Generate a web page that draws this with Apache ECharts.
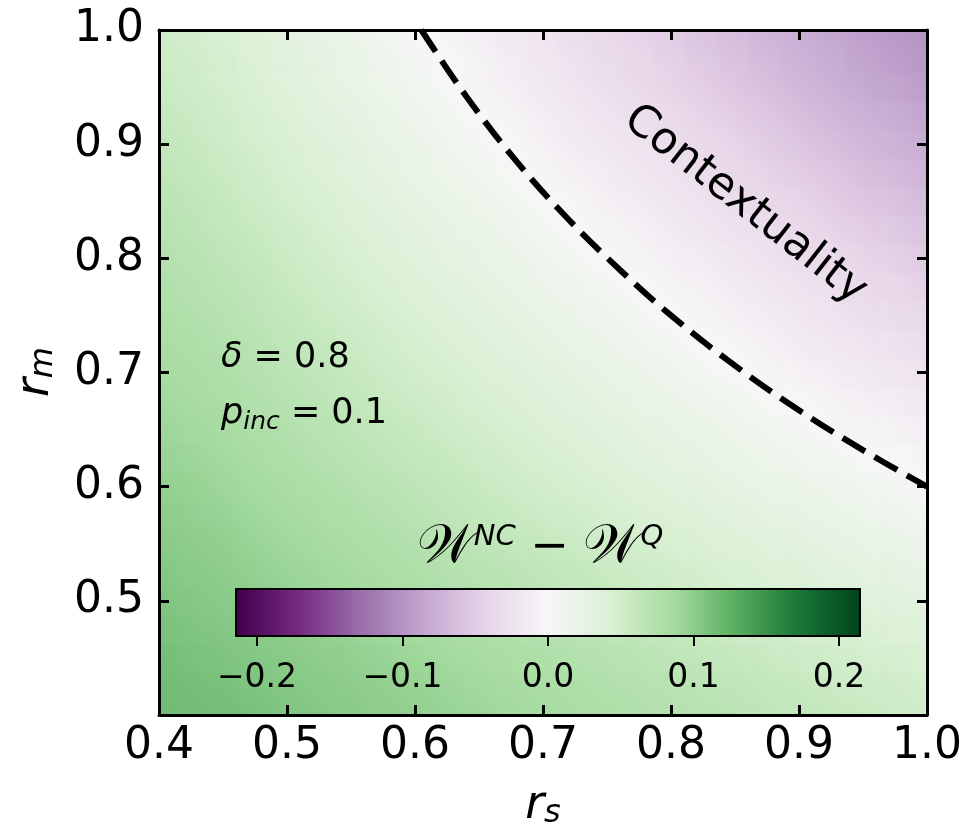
<!DOCTYPE html>
<html><head><meta charset="utf-8">
<script src="https://cdn.jsdelivr.net/npm/echarts@6/dist/echarts.min.js"></script>
<style>html,body{margin:0;padding:0;background:#fff}#c{width:971px;height:839px}</style>
</head><body><div id="c"></div>
<script>
// cell centres (r_s along x, r_m along y)
const rsCenters = [0.4125,0.4375,0.4625,0.4875,0.5125,0.5375,0.5625,0.5875,0.6125,0.6375,0.6625,0.6875,0.7125,0.7375,0.7625,0.7875,0.8125,0.8375,0.8625,0.8875,0.9125,0.9375,0.9625,0.9875];
const rmCenters = [0.4125,0.4375,0.4625,0.4875,0.5125,0.5375,0.5625,0.5875,0.6125,0.6375,0.6625,0.6875,0.7125,0.7375,0.7625,0.7875,0.8125,0.8375,0.8625,0.8875,0.9125,0.9375,0.9625,0.9875];
// W^NC - W^Q, one row per r_m (bottom to top), columns follow r_s
const wDiff = [
[0.117,0.114,0.112,0.109,0.106,0.103,0.100,0.098,0.095,0.092,0.089,0.086,0.084,0.081,0.078,0.075,0.073,0.070,0.067,0.064,0.061,0.059,0.056,0.053],
[0.114,0.111,0.108,0.105,0.102,0.100,0.097,0.094,0.091,0.088,0.085,0.082,0.079,0.076,0.073,0.070,0.067,0.064,0.061,0.058,0.055,0.052,0.049,0.046],
[0.111,0.108,0.105,0.102,0.099,0.096,0.093,0.090,0.087,0.083,0.080,0.077,0.074,0.071,0.068,0.065,0.062,0.058,0.055,0.052,0.049,0.046,0.043,0.040],
[0.109,0.105,0.102,0.099,0.096,0.092,0.089,0.086,0.082,0.079,0.076,0.073,0.069,0.066,0.063,0.059,0.056,0.053,0.049,0.046,0.043,0.040,0.036,0.033],
[0.106,0.102,0.099,0.096,0.092,0.089,0.085,0.082,0.078,0.075,0.071,0.068,0.064,0.061,0.057,0.054,0.051,0.047,0.044,0.040,0.037,0.033,0.030,0.026],
[0.103,0.100,0.096,0.092,0.089,0.085,0.081,0.078,0.074,0.070,0.067,0.063,0.060,0.056,0.052,0.049,0.045,0.041,0.038,0.034,0.031,0.027,0.023,0.020],
[0.100,0.097,0.093,0.089,0.085,0.081,0.078,0.074,0.070,0.066,0.062,0.059,0.055,0.051,0.047,0.043,0.040,0.036,0.032,0.028,0.024,0.021,0.017,0.013],
[0.098,0.094,0.090,0.086,0.082,0.078,0.074,0.070,0.066,0.062,0.058,0.054,0.050,0.046,0.042,0.038,0.034,0.030,0.026,0.022,0.018,0.014,0.010,0.006],
[0.095,0.091,0.087,0.082,0.078,0.074,0.070,0.066,0.062,0.058,0.053,0.049,0.045,0.041,0.037,0.033,0.029,0.025,0.020,0.016,0.012,0.008,0.004,0.000],
[0.092,0.088,0.083,0.079,0.075,0.070,0.066,0.062,0.058,0.053,0.049,0.045,0.040,0.036,0.032,0.027,0.023,0.019,0.015,0.010,0.006,0.002,-0.003,-0.007],
[0.089,0.085,0.080,0.076,0.071,0.067,0.062,0.058,0.053,0.049,0.044,0.040,0.036,0.031,0.027,0.022,0.018,0.013,0.009,0.004,0.000,-0.005,-0.009,-0.014],
[0.086,0.082,0.077,0.073,0.068,0.063,0.059,0.054,0.049,0.045,0.040,0.035,0.031,0.026,0.021,0.017,0.012,0.008,0.003,-0.002,-0.006,-0.011,-0.016,-0.020],
[0.084,0.079,0.074,0.069,0.064,0.060,0.055,0.050,0.045,0.040,0.036,0.031,0.026,0.021,0.016,0.012,0.007,0.002,-0.003,-0.008,-0.013,-0.017,-0.022,-0.027],
[0.081,0.076,0.071,0.066,0.061,0.056,0.051,0.046,0.041,0.036,0.031,0.026,0.021,0.016,0.011,0.006,0.001,-0.004,-0.009,-0.014,-0.019,-0.024,-0.029,-0.034],
[0.078,0.073,0.068,0.063,0.057,0.052,0.047,0.042,0.037,0.032,0.027,0.021,0.016,0.011,0.006,0.001,-0.004,-0.009,-0.015,-0.020,-0.025,-0.030,-0.035,-0.040],
[0.075,0.070,0.065,0.059,0.054,0.049,0.043,0.038,0.033,0.027,0.022,0.017,0.012,0.006,0.001,-0.004,-0.010,-0.015,-0.020,-0.026,-0.031,-0.036,-0.042,-0.047],
[0.073,0.067,0.062,0.056,0.051,0.045,0.040,0.034,0.029,0.023,0.018,0.012,0.007,0.001,-0.004,-0.010,-0.015,-0.021,-0.026,-0.032,-0.037,-0.043,-0.048,-0.054],
[0.070,0.064,0.058,0.053,0.047,0.041,0.036,0.030,0.024,0.019,0.013,0.008,0.002,-0.004,-0.009,-0.015,-0.021,-0.026,-0.032,-0.038,-0.043,-0.049,-0.055,-0.060],
[0.067,0.061,0.055,0.049,0.044,0.038,0.032,0.026,0.020,0.015,0.009,0.003,-0.003,-0.009,-0.015,-0.020,-0.026,-0.032,-0.038,-0.044,-0.049,-0.055,-0.061,-0.067],
[0.064,0.058,0.052,0.046,0.040,0.034,0.028,0.022,0.016,0.010,0.004,-0.002,-0.008,-0.014,-0.020,-0.026,-0.032,-0.038,-0.044,-0.050,-0.056,-0.062,-0.068,-0.074],
[0.061,0.055,0.049,0.043,0.037,0.031,0.024,0.018,0.012,0.006,0.000,-0.006,-0.013,-0.019,-0.025,-0.031,-0.037,-0.043,-0.050,-0.056,-0.062,-0.068,-0.074,-0.080],
[0.059,0.052,0.046,0.040,0.033,0.027,0.021,0.014,0.008,0.002,-0.005,-0.011,-0.017,-0.024,-0.030,-0.036,-0.043,-0.049,-0.055,-0.062,-0.068,-0.074,-0.081,-0.087],
[0.056,0.049,0.043,0.036,0.030,0.023,0.017,0.010,0.004,-0.003,-0.009,-0.016,-0.022,-0.029,-0.035,-0.042,-0.048,-0.055,-0.061,-0.068,-0.074,-0.081,-0.087,-0.094],
[0.053,0.046,0.040,0.033,0.026,0.020,0.013,0.006,0.000,-0.007,-0.014,-0.020,-0.027,-0.034,-0.040,-0.047,-0.054,-0.060,-0.067,-0.074,-0.080,-0.087,-0.094,-0.100]
];
// zero contour (dashed boundary)
const contourRs = [0.605,0.64,0.68,0.72,0.76,0.80,0.85,0.90,0.95,1.0];
const contourRm = [1.0,0.942,0.884,0.834,0.790,0.750,0.706,0.667,0.632,0.600];
// axes and colour bar
const axisRange = [0.4, 1.0];
const cbarRange = [-0.2144, 0.2144];
const cbarTicks = [-0.2, -0.1, 0.0, 0.1, 0.2];
const prgn = ['#40004b','#762a83','#9970ab','#c2a5cf','#e7d4e8','#f7f7f7','#d9f0d3','#a6dba0','#5aae61','#1b7837','#00441b'];
const yTickLabels = [0.5, 0.6, 0.7, 0.8, 0.9, 1.0];

const FONT = 'DejaVu Sans';
const nCols = rsCenters.length, nRows = rmCenters.length;
const heatData = [];
wDiff.forEach((row, j) => row.forEach((v, i) => heatData.push([rsCenters[i], rmCenters[j], v])));
const lineData = contourRs.map((x, k) => [x, contourRm[k]]);
const fmtSigned = v => (v < 0 ? '\u2212' : '') + Math.abs(v).toFixed(1);

// smooth shading between neighbouring cell centres (colours come from the visualMap)
function renderCell(params, api) {
  const idx = params.dataIndexInside;
  const i = idx % nCols, j = Math.floor(idx / nCols);
  if (i === nCols - 1 || j === nRows - 1) return null;
  const x0 = i === 0 ? axisRange[0] : rsCenters[i];
  const x1 = i + 1 === nCols - 1 ? axisRange[1] : rsCenters[i + 1];
  const y0 = j === 0 ? axisRange[0] : rmCenters[j];
  const y1 = j + 1 === nRows - 1 ? axisRange[1] : rmCenters[j + 1];
  const p0 = api.coord([x0, y0]), p1 = api.coord([x1, y1]);
  const cBL = api.visual('color', idx);
  const cBR = api.visual('color', idx + 1);
  const cTL = api.visual('color', idx + nCols);
  const cTR = api.visual('color', idx + nCols + 1);
  const cMid = echarts.color.lerp(0.5, [cBR, cTL]);
  return {
    type: 'rect',
    shape: {x: Math.min(p0[0], p1[0]) - 0.6, y: Math.min(p0[1], p1[1]) - 0.6,
            width: Math.abs(p1[0] - p0[0]) + 1.2, height: Math.abs(p1[1] - p0[1]) + 1.2},
    style: {fill: new echarts.graphic.LinearGradient(0, 1, 1, 0, [
      {offset: 0, color: cBL}, {offset: 0.5, color: cMid}, {offset: 1, color: cTR}])}
  };
}

const frameLine = {show: true, onZero: false, lineStyle: {color: '#000', width: 3}};
const frameTick = {show: true, inside: true, length: 10, lineStyle: {color: '#000', width: 3}};

const chart = echarts.init(document.getElementById('c'), null, {renderer: 'canvas'});
chart.setOption({
  animation: false,
  backgroundColor: '#fff',
  textStyle: {fontFamily: FONT},
  grid: [
    {left: 159, top: 30, width: 768, height: 685, containLabel: false},
    {left: 236, top: 589, width: 624, height: 47, containLabel: false}
  ],
  xAxis: [
    {type: 'value', gridIndex: 0, position: 'bottom', min: axisRange[0], max: axisRange[1], interval: 0.1, z: 6,
      axisLine: frameLine, axisTick: frameTick, splitLine: {show: false},
      axisLabel: {fontSize: 44, color: '#000', margin: 10, formatter: v => v.toFixed(1)}},
    {type: 'value', gridIndex: 0, position: 'top', min: axisRange[0], max: axisRange[1], interval: 0.1, z: 6,
      axisLine: frameLine, axisTick: frameTick, splitLine: {show: false}, axisLabel: {show: false}},
    {type: 'value', gridIndex: 1, position: 'bottom', min: cbarRange[0], max: cbarRange[1], z: 10,
      axisLine: {show: true, onZero: false, lineStyle: {color: '#000', width: 2}},
      axisTick: {show: true, inside: false, length: 10, customValues: cbarTicks, lineStyle: {color: '#000', width: 2}},
      axisLabel: {fontSize: 33, color: '#000', margin: 26, customValues: cbarTicks, formatter: fmtSigned},
      splitLine: {show: false}},
    {type: 'value', gridIndex: 1, position: 'top', min: cbarRange[0], max: cbarRange[1], z: 10,
      axisLine: {show: true, onZero: false, lineStyle: {color: '#000', width: 2}},
      axisTick: {show: false}, axisLabel: {show: false}, splitLine: {show: false}}
  ],
  yAxis: [
    {type: 'value', gridIndex: 0, position: 'left', min: axisRange[0], max: axisRange[1], interval: 0.1, z: 6,
      axisLine: frameLine, axisTick: frameTick, splitLine: {show: false},
      axisLabel: {fontSize: 44, color: '#000', margin: 15, customValues: yTickLabels, formatter: v => v.toFixed(1)}},
    {type: 'value', gridIndex: 0, position: 'right', min: axisRange[0], max: axisRange[1], interval: 0.1, z: 6,
      axisLine: frameLine, axisTick: frameTick, splitLine: {show: false}, axisLabel: {show: false}},
    {type: 'value', gridIndex: 1, position: 'left', min: 0, max: 1, z: 10,
      axisLine: {show: true, onZero: false, lineStyle: {color: '#000', width: 2}},
      axisTick: {show: false}, axisLabel: {show: false}, splitLine: {show: false}},
    {type: 'value', gridIndex: 1, position: 'right', min: 0, max: 1, z: 10,
      axisLine: {show: true, onZero: false, lineStyle: {color: '#000', width: 2}},
      axisTick: {show: false}, axisLabel: {show: false}, splitLine: {show: false}}
  ],
  visualMap: {
    type: 'continuous', seriesIndex: 0, dimension: 2, min: cbarRange[0], max: cbarRange[1],
    orient: 'horizontal', left: 236, top: 589, itemWidth: 47, itemHeight: 624,
    padding: 0, calculable: false, hoverLink: false, text: null, showLabel: false,
    inRange: {color: prgn}, z: 4
  },
  series: [
    {type: 'custom', xAxisIndex: 0, yAxisIndex: 0, data: heatData, renderItem: renderCell,
      clip: true, silent: true, z: 1},
    {type: 'line', xAxisIndex: 0, yAxisIndex: 0, data: lineData, smooth: 0.4, symbol: 'none', silent: true, z: 3,
      lineStyle: {color: '#000', width: 6, type: [26, 11]}}
  ],
  graphic: [
    {type: 'text', x: 221, y: 358, z: 100, silent: true, style: {
      text: '{i|\u03b4} = 0.8', fontSize: 35, fontFamily: FONT, fill: '#000', verticalAlign: 'middle',
      rich: {i: {fontSize: 35, fontStyle: 'italic', fontFamily: FONT}}}},
    {type: 'text', x: 221, y: 414, z: 100, silent: true, style: {
      text: '{i|p}{s|inc}{n| = 0.1}', fontSize: 35, fontFamily: FONT, fill: '#000', verticalAlign: 'middle',
      rich: {i: {fontSize: 35, fontStyle: 'italic', fontFamily: FONT},
             s: {fontSize: 25, fontStyle: 'italic', fontFamily: FONT, padding: [16, 0, 0, 0]},
             n: {fontSize: 35, fontFamily: FONT}}}},
    {type: 'text', x: 745, y: 205, z: 100, rotation: -38 * Math.PI / 180, silent: true, style: {
      text: 'Contextuality', fontSize: 44, fontFamily: FONT, fill: '#000', align: 'center', verticalAlign: 'middle'}},
    {type: 'text', x: 540, y: 548, z: 100, silent: true, style: {
      text: '{w|\ud835\udcb2}{sup|NC}{m| \u2212 }{w|\ud835\udcb2}{sup|Q}', fill: '#000', align: 'center', verticalAlign: 'middle',
      rich: {w: {fontSize: 54, fontFamily: FONT},
             sup: {fontSize: 29, fontStyle: 'italic', fontFamily: FONT, padding: [0, 0, 22, 0]},
             m: {fontSize: 46, fontFamily: FONT}}}},
    {type: 'text', x: 36, y: 372, z: 100, rotation: Math.PI / 2, silent: true, style: {
      text: '{r|r}{s|m}', fill: '#000', align: 'center', verticalAlign: 'middle',
      rich: {r: {fontSize: 46, fontStyle: 'italic', fontFamily: FONT},
             s: {fontSize: 32, fontStyle: 'italic', fontFamily: FONT, padding: [16, 0, 0, 0]}}}},
    {type: 'text', x: 543, y: 806, z: 100, silent: true, style: {
      text: '{r|r}{s|s}', fill: '#000', align: 'center', verticalAlign: 'middle',
      rich: {r: {fontSize: 46, fontStyle: 'italic', fontFamily: FONT},
             s: {fontSize: 32, fontStyle: 'italic', fontFamily: FONT, padding: [16, 0, 0, 0]}}}}
  ]
});
</script>
</body></html>
